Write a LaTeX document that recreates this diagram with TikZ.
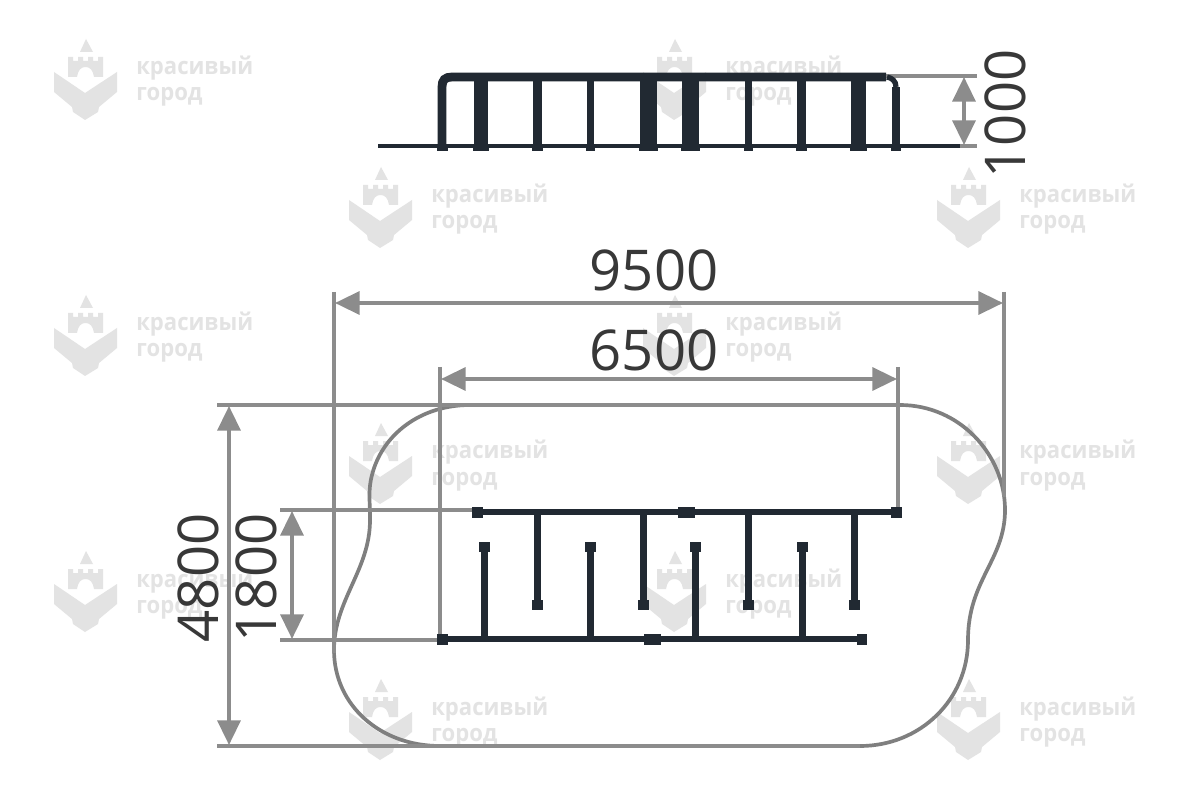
\documentclass[tikz,border=0pt]{standalone}
\usepackage{fontspec}
\setmainfont{Open Sans}
\usetikzlibrary{arrows.meta}
\definecolor{railcolor}{HTML}{212932}
\definecolor{dimcolor}{HTML}{8C8C8C}
\definecolor{plotcolor}{HTML}{7F7F7F}
\definecolor{markcolor}{HTML}{E3E3E3}
\definecolor{numcolor}{HTML}{383838}
\begin{document}
\begin{tikzpicture}[x=0.02cm,y=-0.02cm]
    \tikzstyle{dimline}=[draw=dimcolor,line width=2.1pt]
    \tikzstyle{dimarrow}=[dimline,{Triangle[length=14pt,width=13pt]}-{Triangle[length=14pt,width=13pt]}]
    \tikzstyle{dimtext}=[text=numcolor,inner sep=0pt,font=\fontsize{32}{32}\selectfont]
    \tikzstyle{rail}=[draw=railcolor,line width=3.9pt]
    \tikzstyle{post}=[fill=railcolor,draw=none]
    \tikzstyle{marktext}=[text=markcolor,anchor=base west,inner sep=0pt,xscale=0.93,font=\fontsize{13.5}{13.5}\selectfont\bfseries]
    \useasboundingbox (0,0) rectangle (1200,800);
    \fill[white] (0,0) rectangle (1200,800);
    \foreach \dx/\dy [count=\n] in {0/0,589/0,295/128,883/128,0/256,589/256,295/384,883/384,0/512,589/512,295/640,883/640}{
      \begin{scope}[shift={(\dx,\dy)}]
        \fill[markcolor] (80,52) -- (86,39) -- (93,52) -- cycle;
        \fill[markcolor] (68,57) -- (73,57) -- (73,61) -- (78,61) -- (78,57) -- (83,57) -- (83,61) -- (88,61) -- (88,57) -- (93,57) -- (93,61) -- (98,61) -- (98,57) -- (103,57) -- (103,77) -- (94,77)
          .. controls (93,70) and (90,67) .. (85.5,67) .. controls (81,67) and (78,70) .. (77,77) -- (68,77) -- cycle;
        \fill[markcolor] (54,72) -- (85,93) -- (117,72) -- (117,92) -- (99,107) -- (98,112) -- (85,120) -- (73,112) -- (72,107) -- (54,92) -- cycle;
        \node[marktext] (word\n a) at (136,75) {красивый};
        \node[marktext] (word\n b) at (136,101) {город};
      \end{scope}
    }
    \draw[draw=plotcolor,line width=2.1pt] (470,405) -- (900,405)
      .. controls (960,405) and (1005,455) .. (1005,510)
      .. controls (1005,560) and (968,580) .. (968,640)
      .. controls (968,700) and (920,746) .. (860,746)
      -- (440,746)
      .. controls (380,746) and (334,705) .. (334,650)
      .. controls (334,600) and (370,570) .. (370,520)
      .. controls (370,500) and (368,490) .. (372,475)
      .. controls (382,435) and (420,405) .. (470,405) -- cycle;
    \coordinate (gaugeTL) at (334,292);
    \coordinate (gaugeBL) at (334,653);
    \coordinate (gaugeTR) at (1004,292);
    \coordinate (gaugeBR) at (1004,497);
    \coordinate (innerTL) at (440,367);
    \coordinate (innerBL) at (440,640);
    \coordinate (innerTR) at (898,367);
    \coordinate (innerBR) at (898,512);
    \coordinate (topA) at (217,405);
    \coordinate (topB) at (900,405);
    \coordinate (lowA) at (217,746);
    \coordinate (lowB) at (860,746);
    \coordinate (railA) at (280,510);
    \coordinate (railB) at (475,510);
    \coordinate (footA) at (280,640);
    \coordinate (footB) at (440,640);
    \draw[dimline] (gaugeTL) -- (gaugeBL);
    \draw[dimline] (gaugeTR) -- (gaugeBR);
    \draw[dimline] (innerTL) -- (innerBL);
    \draw[dimline] (innerTR) -- (innerBR);
    \draw[dimline] (topA) -- (topB);
    \draw[dimline] (lowA) -- (lowB);
    \draw[dimline] (railA) -- (railB);
    \draw[dimline] (footA) -- (footB);
    \coordinate (wideL) at (335,303);
    \coordinate (wideR) at (1003,303);
    \coordinate (midL) at (441,379);
    \coordinate (midR) at (897,379);
    \coordinate (tallT) at (229,406);
    \coordinate (tallB) at (229,745);
    \coordinate (shortT) at (292,511);
    \coordinate (shortB) at (292,639);
    \draw[dimarrow] (wideL) -- (wideR);
    \draw[dimarrow] (midL) -- (midR);
    \draw[dimarrow] (tallT) -- (tallB);
    \draw[dimarrow] (shortT) -- (shortB);
    \node[dimtext] (wideText) at (654,270) {9500};
    \node[dimtext] (midText) at (654,350) {6500};
    \node[dimtext,rotate=90] (tallText) at (198,578) {4800};
    \node[dimtext,rotate=90] (shortText) at (256,578) {1800};
    \coordinate (upT) at (964,77);
    \coordinate (upB) at (964,145);
    \coordinate (capT) at (885,76);
    \coordinate (capR) at (977,76);
    \coordinate (baseL) at (378,146);
    \coordinate (baseM) at (960,146);
    \coordinate (baseR) at (977,146);
    \draw[dimline] (capT) -- (capR);
    \draw[dimline] (baseM) -- (baseR);
    \draw[dimarrow] (upT) -- (upB);
    \node[dimtext,rotate=90] (upText) at (1005,114) {1000};
    \draw[draw=railcolor,line width=2.5pt] (baseL) -- (baseM);
    \draw[draw=railcolor,line width=5pt] (442,146) -- (442,87) .. controls (442,80) and (445,77) .. (452,77) -- (886,77);
    \draw[draw=railcolor,line width=4.5pt] (896,146) -- (896,87);
    \foreach \px/\pw in {481/14,537/9,590/7,648.5/17,690.5/17,748.5/7,801.5/9,858.5/15}{
      \fill[post] (\px-\pw/2,78) rectangle (\px+\pw/2,146);
      \fill[post] (\px-\pw/2-1,146) rectangle (\px+\pw/2+1,151);
    }
    \foreach \px/\pw in {442/9,896/8}{
      \fill[post] (\px-\pw/2-1,146) rectangle (\px+\pw/2+1,151);
    }
    \draw[draw=railcolor,line width=3pt] (887,77) .. controls (892,78) and (896,81) .. (896,87);
    \coordinate (upperL) at (478,512);
    \coordinate (upperR) at (896,512);
    \coordinate (lowerL) at (442,639);
    \coordinate (lowerR) at (862,639);
    \draw[rail] (upperL) -- (upperR);
    \draw[rail] (lowerL) -- (lowerR);
    \fill[post] (472,507) rectangle (483,518);
    \fill[post] (891,507) rectangle (902,518);
    \fill[post] (678,507) rectangle (695,518);
    \fill[post] (437,634) rectangle (448,645);
    \fill[post] (857,634) rectangle (867,645);
    \fill[post] (644,634) rectangle (661,645);
    \foreach \px in {537,643,748,854}{
      \fill[post] (\px-3.5,512) rectangle (\px+3.5,605);
      \fill[post] (\px-5.5,600) rectangle (\px+5.5,610);
    }
    \foreach \px in {484,590,695,802}{
      \fill[post] (\px-3.5,547) rectangle (\px+3.5,639);
      \fill[post] (\px-5.5,542) rectangle (\px+5.5,552);
    }
\end{tikzpicture}
\end{document}
